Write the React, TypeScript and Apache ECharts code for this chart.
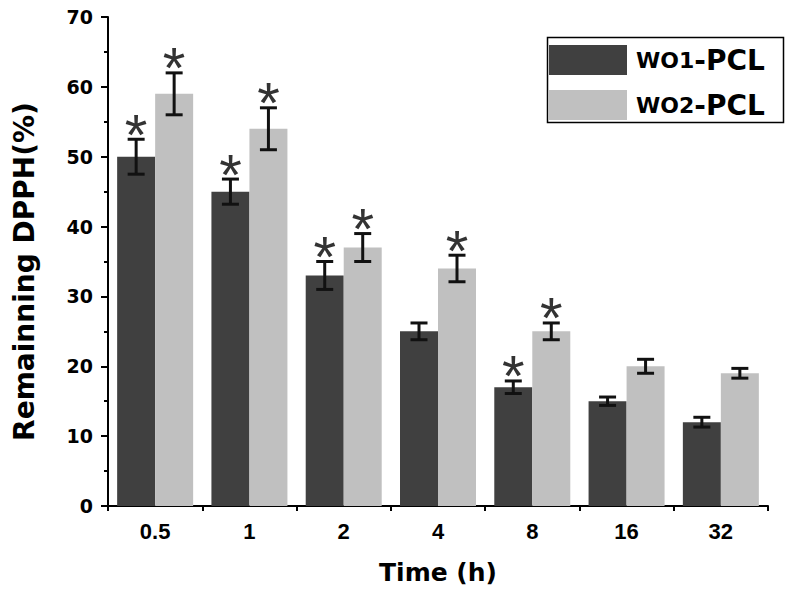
import React, { useEffect, useRef } from "react";
import * as echarts from "echarts";

const categories = ["0.5", "1", "2", "4", "8", "16", "32"];
const wo1Values = [50, 45, 33, 25, 17, 15, 12];
const wo1Errors = [2.5, 1.8, 2, 1.2, 0.9, 0.6, 0.7];
const wo1Signif = [1, 1, 1, 0, 1, 0, 0];
const wo2Values = [59, 54, 37, 34, 25, 20, 19];
const wo2Errors = [3, 3, 2, 1.9, 1.2, 1, 0.7];
const wo2Signif = [1, 1, 1, 1, 1, 0, 0];
const seriesNames = ["WO1-PCL", "WO2-PCL"];
const yTicks = { min: 0, max: 70, interval: 10 };

const BAR_W = 38;
const DARK = "#404040";
const LIGHT = "#c0c0c0";

function errorSeries(values: number[], errors: number[], signif: number[], offset: number) {
  return {
    type: "custom",
    xAxisIndex: 0,
    yAxisIndex: 0,
    silent: true,
    z: 10,
    data: values.map((v, i) => [i, v, errors[i], signif[i]]),
    encode: { x: 0, y: 1 },
    renderItem: (params: any, api: any) => {
      const i = api.value(0);
      const v = api.value(1);
      const e = api.value(2);
      const s = api.value(3);
      const top = api.coord([i, v + e]);
      const bot = api.coord([i, v - e]);
      const x = top[0] + offset;
      const cap = 8.5;
      const style = { stroke: "#111", lineWidth: 3 };
      const children: any[] = [
        { type: "line", shape: { x1: x, y1: top[1], x2: x, y2: bot[1] }, style },
        { type: "line", shape: { x1: x - cap, y1: top[1], x2: x + cap, y2: top[1] }, style },
        { type: "line", shape: { x1: x - cap, y1: bot[1], x2: x + cap, y2: bot[1] }, style },
      ];
      if (s) {
        children.push({
          type: "text",
          style: {
            text: "*",
            x: x,
            y: top[1] - 5,
            align: "center",
            verticalAlign: "middle",
            fontSize: 58,
            fontFamily: "Liberation Sans",
            fill: "#333",
          },
        });
      }
      return { type: "group", children };
    },
  };
}

export default function App() {
  const ref = useRef<HTMLDivElement>(null);
  useEffect(() => {
    if (!ref.current) return;
    const chart = echarts.init(ref.current, undefined, { renderer: "svg" });
    chart.setOption({
      animation: false,
      backgroundColor: "#fff",
      grid: { left: 108, right: 23, top: 17, bottom: 94, containLabel: false },
      legend: {
        data: seriesNames,
        orient: "vertical",
        left: 549,
        top: 45,
        padding: 0,
        itemWidth: 78,
        itemHeight: 30,
        itemGap: 15,
        icon: "rect",
        selectedMode: false,
        formatter: (name: string) => {
          const parts = name.split("-");
          return `{a|${parts[0]}}{b|-${parts[1]}}`;
        },
        textStyle: {
          padding: [0, 0, 0, 4],
          rich: {
            a: { fontFamily: "DejaVu Sans", fontWeight: "bold", fontSize: 22, color: "#000" },
            b: { fontFamily: "DejaVu Sans", fontWeight: "bold", fontSize: 28, color: "#000" },
          },
        },
      },
      graphic: [
        {
          type: "rect",
          left: 545,
          top: 35,
          shape: { width: 236, height: 85 },
          style: { fill: "none", stroke: "#000", lineWidth: 1.5 },
          z: 100,
        },
      ],
      xAxis: [
        {
          type: "category",
          data: categories,
          position: "bottom",
          name: "Time (h)",
          nameLocation: "middle",
          nameGap: 54,
          nameTextStyle: { fontFamily: "DejaVu Sans", fontWeight: "bold", fontSize: 25, color: "#000" },
          axisLine: { lineStyle: { color: "#000", width: 2 } },
          axisTick: { alignWithLabel: true, length: 8, lineStyle: { color: "#000", width: 2 } },
          axisLabel: { fontFamily: "Liberation Sans", fontWeight: "bold", fontSize: 22, color: "#000", margin: 14 },
          splitLine: { show: false },
        },
        {
          type: "category",
          data: categories,
          position: "bottom",
          axisLine: { show: false },
          axisTick: { show: true, length: 5, lineStyle: { color: "#000", width: 2 } },
          axisLabel: { show: false },
          splitLine: { show: false },
        },
      ],
      yAxis: {
        type: "value",
        min: yTicks.min,
        max: yTicks.max,
        interval: yTicks.interval,
        name: "Remainning DPPH(%)",
        nameLocation: "middle",
        nameGap: 70,
        nameTextStyle: {
          fontFamily: "DejaVu Sans",
          fontWeight: "bold",
          fontSize: 28,
          color: "#000",
          padding: [0, 20, 0, 0],
        },
        axisLine: { show: true, lineStyle: { color: "#000", width: 2 } },
        axisTick: { show: true, length: 7, lineStyle: { color: "#000", width: 2 } },
        minorTick: { show: true, splitNumber: 2, length: 4, lineStyle: { color: "#000", width: 2 } },
        axisLabel: { fontFamily: "DejaVu Sans", fontWeight: "bold", fontSize: 19, color: "#000", margin: 15 },
        splitLine: { show: false },
      },
      series: [
        {
          name: seriesNames[0],
          type: "bar",
          xAxisIndex: 0,
          data: wo1Values,
          barWidth: BAR_W,
          barGap: "0%",
          itemStyle: { color: DARK },
        },
        {
          name: seriesNames[1],
          type: "bar",
          xAxisIndex: 0,
          data: wo2Values,
          barWidth: BAR_W,
          barGap: "0%",
          itemStyle: { color: LIGHT },
        },
        errorSeries(wo1Values, wo1Errors, wo1Signif, -BAR_W / 2),
        errorSeries(wo2Values, wo2Errors, wo2Signif, BAR_W / 2),
      ],
    });
    return () => chart.dispose();
  }, []);
  return (
    <div
      ref={ref}
      style={{ position: "fixed", left: 0, top: 0, width: 791, height: 600, background: "#fff" }}
    />
  );
}
